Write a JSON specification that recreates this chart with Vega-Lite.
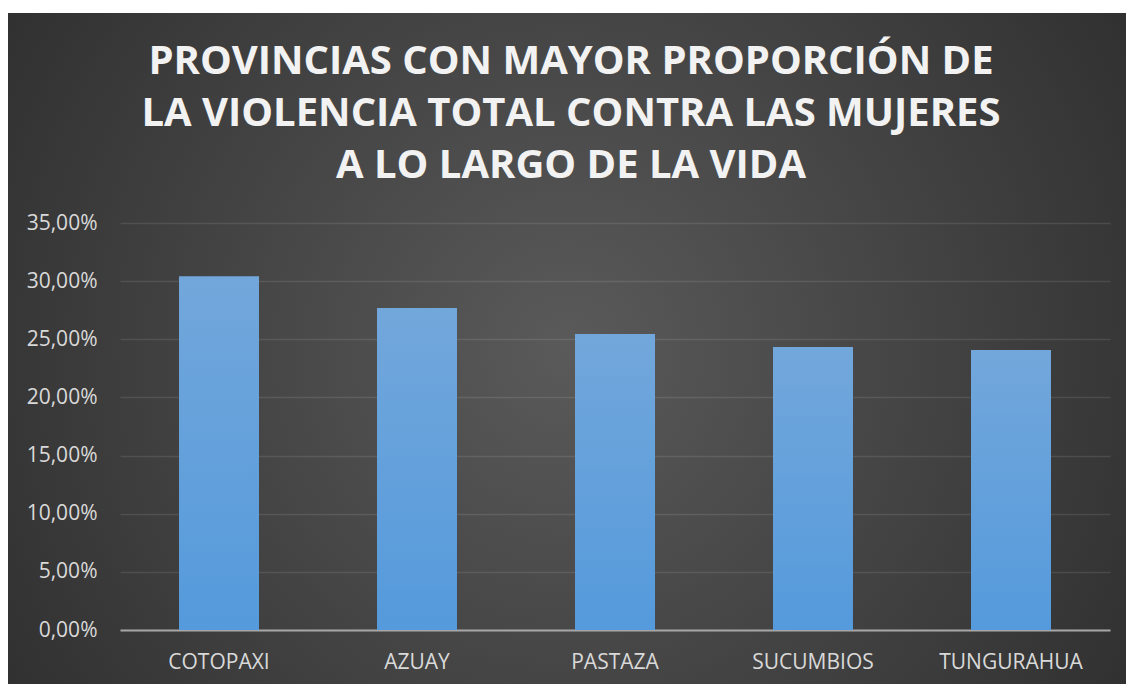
{
  "$schema": "https://vega.github.io/schema/vega-lite/v6.json",
  "width": 1118,
  "height": 671,
  "autosize": {"type": "none"},
  "padding": {"left": 8, "top": 13, "right": 0, "bottom": 0},
  "background": "white",
  "title": {
    "text": ["PROVINCIAS CON MAYOR PROPORCIÓN DE", "LA VIOLENCIA TOTAL CONTRA LAS MUJERES", "A LO LARGO DE LA VIDA"],
    "orient": "top",
    "anchor": "middle",
    "frame": "group",
    "baseline": "alphabetic",
    "offset": -205,
    "dx": 4,
    "font": "Open Sans",
    "fontSize": 40,
    "fontWeight": "bold",
    "color": "#f2f2f2",
    "lineHeight": 52,
    "limit": 0
  },
  "data": {
    "values": [
      {"provincia": "COTOPAXI", "valor": 0.3043},
      {"provincia": "AZUAY", "valor": 0.2769},
      {"provincia": "PASTAZA", "valor": 0.2545},
      {"provincia": "SUCUMBIOS", "valor": 0.2433},
      {"provincia": "TUNGURAHUA", "valor": 0.2407}
    ]
  },
  "mark": {
    "type": "bar",
    "fill": {
      "gradient": "linear",
      "x1": 0, "y1": 0, "x2": 0, "y2": 1,
      "stops": [
        {"offset": 0, "color": "#72a7db"},
        {"offset": 1, "color": "#559adc"}
      ]
    }
  },
  "encoding": {
    "x": {
      "field": "provincia",
      "type": "nominal",
      "sort": null,
      "scale": {"range": [112, 1102], "paddingInner": 0.596, "paddingOuter": 0.298},
      "axis": {
        "title": null,
        "orient": "bottom",
        "offset": -54,
        "ticks": false,
        "labelPadding": 21,
        "labelAngle": 0,
        "labelFont": "Open Sans",
        "labelFontSize": 21,
        "labelColor": "#d9d9d9",
        "domainColor": "#a6a6a6",
        "domainWidth": 2,
        "grid": false
      }
    },
    "y": {
      "field": "valor",
      "type": "quantitative",
      "scale": {"domain": [0, 0.35], "range": [617, 210], "nice": false, "zero": true},
      "axis": {
        "title": null,
        "orient": "left",
        "offset": -89,
        "values": [0, 0.05, 0.1, 0.15, 0.2, 0.25, 0.3, 0.35],
        "format": ".2%",
        "ticks": false,
        "domain": false,
        "labelPadding": 0,
        "labelFont": "Open Sans",
        "labelFontSize": 21,
        "labelColor": "#d9d9d9",
        "grid": true,
        "gridColor": "white",
        "gridOpacity": 0.1,
        "gridWidth": 1.5
      }
    }
  },
  "config": {
    "locale": {
      "number": {"decimal": ",", "thousands": ".", "grouping": [3], "currency": ["", " €"]}
    },
    "view": {
      "stroke": null,
      "fill": {
        "gradient": "radial",
        "x1": 0.5, "y1": 0.5, "r1": 0,
        "x2": 0.5, "y2": 0.5, "r2": 0.72,
        "stops": [
          {"offset": 0, "color": "#5a5a5a"},
          {"offset": 1, "color": "#272727"}
        ]
      }
    }
  }
}
